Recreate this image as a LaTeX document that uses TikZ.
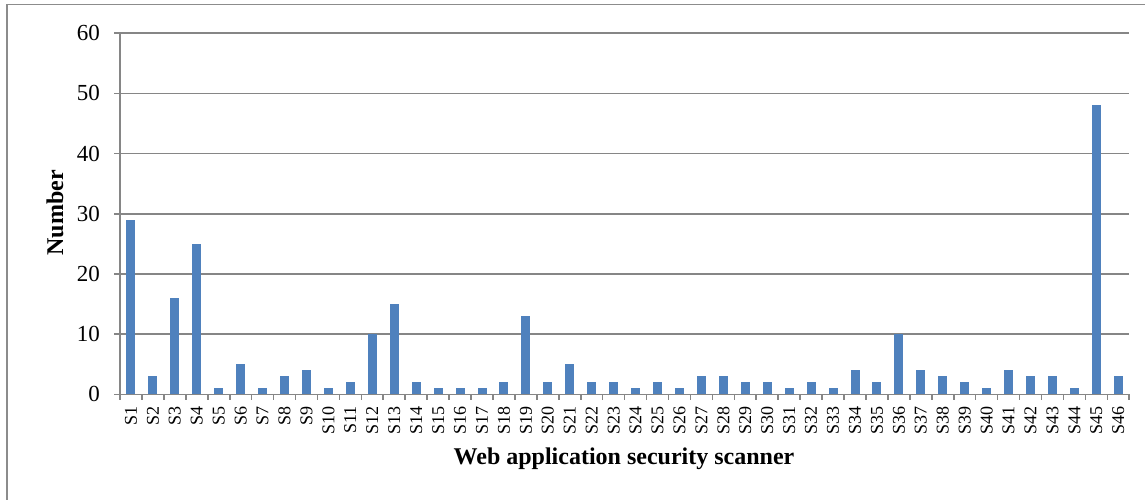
\documentclass[tikz,border=0pt]{standalone}
\usepackage{fontspec}
\setmainfont{Liberation Serif}
\definecolor{barblue}{RGB}{79,129,189}
\definecolor{gridgray}{RGB}{134,134,134}
\definecolor{framegray}{RGB}{140,140,140}
\begin{document}
\begin{tikzpicture}[x=1pt,y=-1pt,
  gridline/.style={draw=gridgray,line width=1.6pt},
  barfill/.style={fill=barblue,draw=none},
  ylab/.style={font=\fontsize{23}{23}\selectfont,anchor=east,inner sep=0pt},
  xlab/.style={font=\fontsize{18}{18}\selectfont,rotate=90,anchor=east,inner sep=0pt},
  axtitle/.style={font=\fontsize{24}{24}\selectfont\bfseries,inner sep=0pt}]
\useasboundingbox (0,0) rectangle (1145,500);
\draw[framegray,line width=1.3pt] (1147,4.3) -- (7,4.3) -- (7,502);
% gridlines
\foreach \v in {10,20,...,60}
  \draw[gridline] (114,{394.3-6.017*\v}) -- (1129.3,{394.3-6.017*\v});
% y labels
\foreach \v in {0,10,...,60}
  \node[ylab] (y\v) at (100,{394.3-6.017*\v}) {\v};
% bars and x labels
\foreach \v [count=\i] in {29,3,16,25,1,5,1,3,4,1,2,10,15,2,1,1,1,2,13,2,5,2,2,1,2,1,3,3,2,2,1,2,1,4,2,10,4,3,2,1,4,3,3,1,48,3} {
  \fill[barfill] ({120+(\i-0.5)*21.94-4.5},394.3) rectangle ({120+(\i-0.5)*21.94+4.5},{394.3-6.017*\v});
  \node[xlab] (s\i) at ({120+(\i-0.5)*21.94},406) {S\i};
}
% axes
\draw[gridline] (114,394.3) -- (1129.3,394.3);
\draw[gridline] (120,33.3) -- (120,394.3);
\foreach \k in {0,...,46}
  \draw[gridline] ({120+\k*21.94},394.3) -- ({120+\k*21.94},400);
% titles
\node[axtitle] (xt) at (624,459) {Web application security scanner};
\node[axtitle,rotate=90] (yt) at (55,213) {Number};
\end{tikzpicture}
\end{document}
